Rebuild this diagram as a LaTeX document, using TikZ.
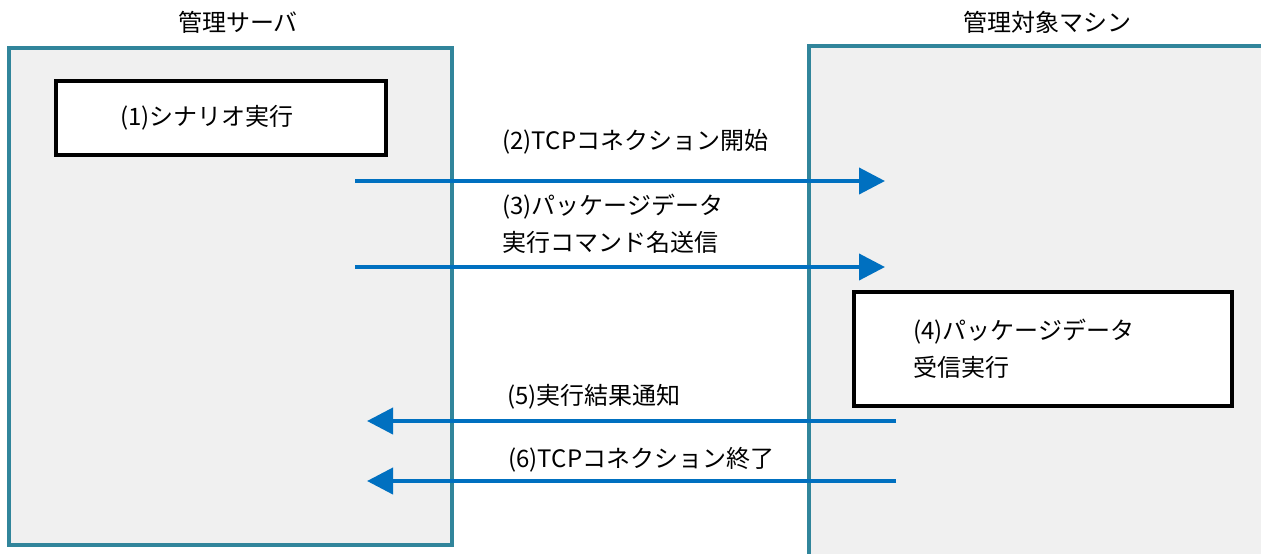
\documentclass[tikz,border=0pt]{standalone}
\usepackage{fontspec}
\setmainfont{Noto Sans CJK JP}
\usetikzlibrary{arrows.meta}

\definecolor{panelline}{RGB}{49,133,155}
\definecolor{panelfill}{RGB}{240,240,240}
\definecolor{msgblue}{RGB}{0,112,192}

\begin{document}
\begin{tikzpicture}[x=0.5pt,y=-0.5pt,
  panel/.style={draw=panelline,fill=panelfill,line width=1.75pt},
  procbox/.style={draw=black,fill=white,line width=2pt,inner sep=0pt},
  msg/.style={draw=msgblue,line width=2pt,-{Triangle[length=13pt,width=13pt]}},
  lbl/.style={font=\fontsize{12}{18.5}\selectfont,inner sep=0pt,align=left}]
\useasboundingbox (0,0) rectangle (1261,553);

% the two hosts
\begin{scope}
\clip (0,0) rectangle (1261,553);
\draw[panel] (9,48) rectangle (452,545);
\draw[panel] (809,46) rectangle (1290,580);
\end{scope}

\node[lbl] (srvtitle) at (238,22) {管理サーバ};
\node[lbl] (tgttitle) at (1047,22) {管理対象マシン};

% processing boxes
\node[procbox,minimum width=165pt,minimum height=37pt] (scenbox) at (220.5,118) {};
\node[lbl] (scentext) at (207,118) {(1)シナリオ実行};

\node[procbox,minimum width=189pt,minimum height=57pt] (recvbox) at (1043,349) {};
\node[lbl,anchor=west] (recvtext) at (913,349) {(4)パッケージデータ\\受信実行};

% messages
\coordinate (srvA) at (355,181);
\coordinate (tgtA) at (885,181);
\coordinate (srvB) at (355,267);
\coordinate (tgtB) at (885,267);
\coordinate (tgtC) at (896,421);
\coordinate (srvC) at (367,421);
\coordinate (tgtD) at (896,481);
\coordinate (srvD) at (367,481);

\draw[msg] (srvA) -- (tgtA);
\draw[msg] (srvB) -- (tgtB);
\draw[msg] (tgtC) -- (srvC);
\draw[msg] (tgtD) -- (srvD);

\node[lbl,anchor=west] (connlbl) at (502,142) {(2)TCPコネクション開始};
\node[lbl,anchor=west] (sendlbl) at (502,224) {(3)パッケージデータ\\実行コマンド名送信};
\node[lbl,anchor=west] (resultlbl) at (507,397) {(5)実行結果通知};
\node[lbl,anchor=west] (closelbl) at (508,460) {(6)TCPコネクション終了};

\end{tikzpicture}
\end{document}
